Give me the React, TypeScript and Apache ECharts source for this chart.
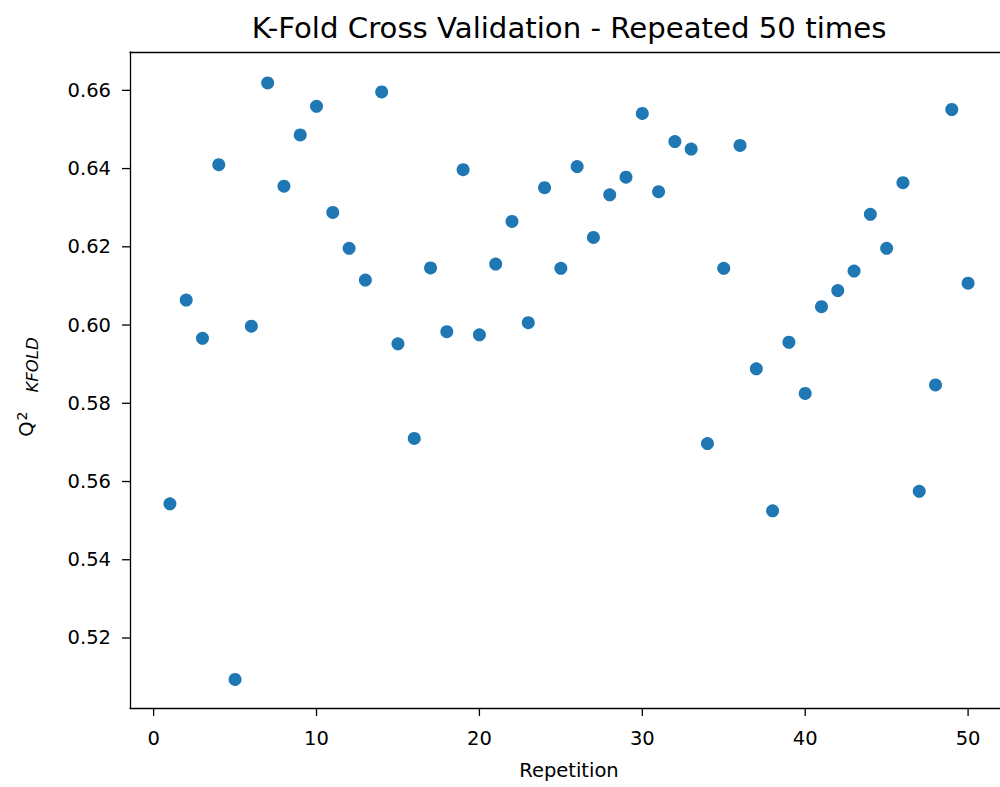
import React, { useEffect, useRef } from "react";
import * as echarts from "echarts";

const repetitions: number[] = [
  1, 2, 3, 4, 5, 6, 7, 8, 9, 10,
  11, 12, 13, 14, 15, 16, 17, 18, 19, 20,
  21, 22, 23, 24, 25, 26, 27, 28, 29, 30,
  31, 32, 33, 34, 35, 36, 37, 38, 39, 40,
  41, 42, 43, 44, 45, 46, 47, 48, 49, 50,
];

const q2Values: number[] = [
  0.5543, 0.6064, 0.5966, 0.6410, 0.5094, 0.5997, 0.6619, 0.6355, 0.6486, 0.6559,
  0.6288, 0.6196, 0.6115, 0.6596, 0.5952, 0.5710, 0.6146, 0.5983, 0.6397, 0.5975,
  0.6156, 0.6265, 0.6006, 0.6351, 0.6145, 0.6405, 0.6224, 0.6333, 0.6378, 0.6541,
  0.6341, 0.6469, 0.6450, 0.5697, 0.6145, 0.6459, 0.5888, 0.5525, 0.5956, 0.5825,
  0.6047, 0.6088, 0.6138, 0.6283, 0.6196, 0.6364, 0.5575, 0.5847, 0.6551, 0.6107,
];

const xTicks: number[] = [0, 10, 20, 30, 40, 50];
const yTicks: number[] = [0.52, 0.54, 0.56, 0.58, 0.6, 0.62, 0.64, 0.66];

const xMin = -1.45;
const xMax = 52.45;
const yMin = 0.5021;
const yMax = 0.6698;

const titleText = "K-Fold Cross Validation - Repeated 50 times";
const xLabelText = "Repetition";

const FONT = "'DejaVu Sans', sans-serif";

export default function App() {
  const ref = useRef<HTMLDivElement>(null);

  useEffect(() => {
    if (!ref.current) return;
    const chart = echarts.init(ref.current, undefined, { renderer: "svg" });
    const gridLeft = 130;
    const gridTop = 52;
    const gridWidth = 878;
    const gridHeight = 656;
    const centerX = gridLeft + gridWidth / 2;
    const tickLen = 8;

    const textGraphics: any[] = [
      {
        type: "text",
        x: centerX,
        y: 28,
        style: {
          text: titleText,
          font: `29.2px ${FONT}`,
          fill: "#000000",
          align: "center",
          verticalAlign: "middle",
        },
      },
      {
        type: "text",
        x: centerX,
        y: 770,
        style: {
          text: xLabelText,
          font: `19.5px ${FONT}`,
          fill: "#000000",
          align: "center",
          verticalAlign: "middle",
        },
      },
      {
        type: "text",
        x: 26,
        y: 429,
        rotation: Math.PI / 2,
        style: {
          text: "Q",
          font: `19.5px ${FONT}`,
          fill: "#000000",
          align: "center",
          verticalAlign: "middle",
        },
      },
      {
        type: "text",
        x: 22,
        y: 416,
        rotation: Math.PI / 2,
        style: {
          text: "2",
          font: `14px ${FONT}`,
          fill: "#000000",
          align: "center",
          verticalAlign: "middle",
        },
      },
      {
        type: "text",
        x: 32,
        y: 365,
        rotation: Math.PI / 2,
        style: {
          text: "KFOLD",
          font: `italic 16.5px ${FONT}`,
          fill: "#000000",
          align: "center",
          verticalAlign: "middle",
        },
      },
    ];

    chart.setOption({
      animation: false,
      grid: {
        left: gridLeft,
        top: gridTop,
        width: gridWidth,
        height: gridHeight,
        outerBoundsMode: "none",
      },
      xAxis: [
        {
          type: "value",
          min: xMin,
          max: xMax,
          axisLine: { show: true, onZero: false, lineStyle: { color: "#000000", width: 1.3 } },
          splitLine: { show: false },
          axisTick: { show: false },
          axisLabel: {
            color: "#000000",
            fontFamily: FONT,
            fontSize: 19.5,
            margin: 20,
            customValues: xTicks,
            formatter: (v: number) => String(v),
          },
        },
        {
          type: "value",
          position: "top",
          min: xMin,
          max: xMax,
          axisLine: { show: true, onZero: false, lineStyle: { color: "#000000", width: 1.3 } },
          splitLine: { show: false },
          axisTick: { show: false },
          axisLabel: { show: false },
        },
      ],
      yAxis: [
        {
          type: "value",
          min: yMin,
          max: yMax,
          axisLine: { show: true, onZero: false, lineStyle: { color: "#000000", width: 1.3 } },
          splitLine: { show: false },
          axisTick: { show: false },
          axisLabel: {
            color: "#000000",
            fontFamily: FONT,
            fontSize: 19.5,
            margin: 19,
            customValues: yTicks,
            formatter: (v: number) => v.toFixed(2),
          },
        },
        {
          type: "value",
          position: "right",
          min: yMin,
          max: yMax,
          axisLine: { show: true, onZero: false, lineStyle: { color: "#000000", width: 1.3 } },
          splitLine: { show: false },
          axisTick: { show: false },
          axisLabel: { show: false },
        },
      ],
      series: [
        {
          type: "scatter",
          xAxisIndex: 0,
          yAxisIndex: 0,
          data: repetitions.map((r, i) => [r, q2Values[i]]),
          symbol: "circle",
          symbolSize: 13,
          itemStyle: { color: "#1f77b4", opacity: 1 },
        },
      ],
      graphic: textGraphics,
    });

    // Tick marks: positions obtained from the library's own scales.
    const tickGraphics: any[] = [];
    yTicks.forEach((v) => {
      const p = chart.convertToPixel({ xAxisIndex: 0, yAxisIndex: 0 }, [xMin, v]) as number[];
      if (p && isFinite(p[0]) && isFinite(p[1])) {
        tickGraphics.push({
          type: "line",
          z: 100,
          silent: true,
          shape: { x1: p[0] - tickLen, y1: p[1], x2: p[0], y2: p[1] },
          style: { stroke: "#000000", lineWidth: 1.3 },
        });
      }
    });
    xTicks.forEach((v) => {
      const p = chart.convertToPixel({ xAxisIndex: 0, yAxisIndex: 0 }, [v, yMin]) as number[];
      if (p && isFinite(p[0]) && isFinite(p[1])) {
        tickGraphics.push({
          type: "line",
          z: 100,
          silent: true,
          shape: { x1: p[0], y1: p[1], x2: p[0], y2: p[1] + tickLen },
          style: { stroke: "#000000", lineWidth: 1.3 },
        });
      }
    });

    chart.setOption({ graphic: [...textGraphics, ...tickGraphics] });

    return () => {
      chart.dispose();
    };
  }, []);

  return (
    <div
      ref={ref}
      style={{
        position: "fixed",
        left: 0,
        top: 0,
        width: 1000,
        height: 787,
        background: "#ffffff",
      }}
    />
  );
}
